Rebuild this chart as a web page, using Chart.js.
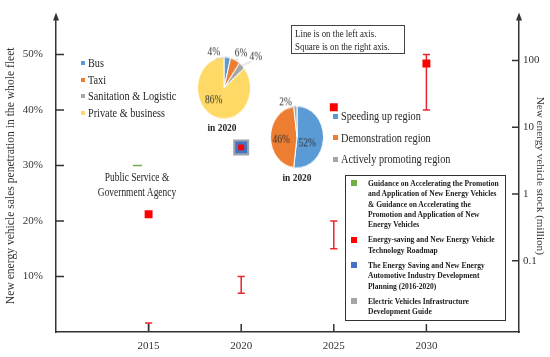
<!DOCTYPE html>
<html>
<head>
<meta charset="utf-8">
<script src="https://cdn.jsdelivr.net/npm/chart.js@4.4.1/dist/chart.umd.min.js"></script>
<style>
  body { margin: 0; background: #fff; }
  #wrap { position: relative; width: 550px; height: 357px; overflow: hidden;
          font-family: 'Liberation Serif', 'Times New Roman', serif; color: #262626; }
  .abs { position: absolute; white-space: nowrap; }
  .nar { transform: scaleX(.855); transform-origin: 0 0; }
  .pie { position: absolute; width: 110px; height: 110px; transform: scaleY(1.17); }
</style>
</head>
<body>
<div id="wrap">
  <canvas id="main" width="550" height="357"></canvas>
  <div class="pie" id="pie1box"><canvas id="pie1" width="110" height="110"></canvas></div>
  <div class="pie" id="pie2box"><canvas id="pie2" width="110" height="110"></canvas></div>
</div>
<script>
// target years and values
const years = [2015, 2020, 2025, 2030];
const shareLow = [0, 7, 15, 40];        // % of fleet sales, lower end of target
const shareHigh = [1.6, 10, 20, 50];    // upper end
const roadmapStock = [0.5, 5, 20, 90];  // million, right axis
const planningYear = [2020];
const planningStock = [5];
const infraYear = [2020];
const infraStock = [5];
const publicYear = [2014.4];
const publicShare = [30];

const xTicks = [2015, 2020, 2025, 2030];
const leftTicks = [10, 20, 30, 40, 50];
const rightTicks = [0.1, 1, 10, 100];

const vehicleTypes = ['Bus', 'Taxi', 'Sanitation & Logistic', 'Private & business'];
const vehicleShares = [4, 6, 4, 86];
const regionTypes = ['Speeding up region', 'Demonstration region', 'Actively promoting region'];
const regionShares = [52, 46, 2];

const policies = [
  'Guidance on Accelerating the Promotion\nand Application of New Energy Vehicles\n& Guidance on Accelerating the\nPromotion and Application of New\nEnergy Vehicles',
  'Energy-saving and New Energy Vehicle\nTechnology Roadmap',
  'The Energy Saving and New Energy\nAutomotive Industry Development\nPlanning (2016-2020)',
  'Electric Vehicles Infrastructure\nDevelopment Guide'
];

const GREEN = '#70AD47', RED = '#FF0000', BLUE = '#4472C4', GREY = '#A5A5A5';
const pieColors = ['#5B9BD5', '#ED7D31', '#A5A5A5', '#FFD966'];
const AX = '#333';

Chart.defaults.font.family = "'Liberation Serif', 'Times New Roman', serif";
Chart.defaults.color = '#333';

// error bar points, broken apart with null
const barPoints = [];
years.forEach((y, i) => {
  barPoints.push({x: y, y: shareLow[i]}, {x: y, y: shareHigh[i]}, {x: y, y: null});
});

// ticks pointing into the plot + arrow heads
const axisDecor = {
  id: 'axisDecor',
  afterDraw(chart) {
    const {ctx, chartArea: a, scales} = chart;
    ctx.save();
    ctx.strokeStyle = AX;
    ctx.fillStyle = AX;
    ctx.lineWidth = 1.5;
    ctx.beginPath();
    scales.x.ticks.forEach(t => {
      const p = scales.x.getPixelForValue(t.value);
      ctx.moveTo(p, a.bottom); ctx.lineTo(p, a.bottom - 8);
    });
    scales.y.ticks.forEach(t => {
      const p = scales.y.getPixelForValue(t.value);
      ctx.moveTo(a.left, p); ctx.lineTo(a.left + 8, p);
    });
    scales.y1.ticks.forEach(t => {
      const p = scales.y1.getPixelForValue(t.value);
      ctx.moveTo(a.right, p); ctx.lineTo(a.right - 7, p);
    });
    ctx.stroke();
    [a.left, a.right].forEach(xp => {
      ctx.beginPath();
      ctx.moveTo(xp, a.top - 7);
      ctx.lineTo(xp - 3, a.top + 1);
      ctx.lineTo(xp + 3, a.top + 1);
      ctx.closePath();
      ctx.fill();
    });
    ctx.restore();
  }
};

new Chart(document.getElementById('main'), {
  type: 'scatter',
  data: {
    datasets: [
      {
        label: 'Energy-saving and New Energy Vehicle Technology Roadmap',
        data: years.map((y, i) => ({x: y, y: roadmapStock[i]})),
        yAxisID: 'y1',
        pointStyle: 'rect',
        pointRadius: [5.6, 4.2, 5.6, 5.6],
        pointBackgroundColor: RED,
        pointBorderWidth: 0
      },
      {
        label: 'sales share range',
        data: barPoints,
        yAxisID: 'y',
        showLine: true,
        borderColor: '#E8262B',
        borderWidth: 1.5,
        pointStyle: 'line',
        pointBorderColor: '#E8262B',
        pointBorderWidth: 1.5,
        pointRadius: c => (c.raw && c.raw.y === 0) ? 0 : 3.6
      },
      {
        label: 'Public Service & Government Agency',
        data: publicYear.map((y, i) => ({x: y, y: publicShare[i]})),
        yAxisID: 'y',
        pointStyle: 'line',
        pointRadius: 4.5,
        pointBorderColor: GREEN,
        pointBorderWidth: 1.5
      },
      {
        label: 'The Energy Saving and New Energy Automotive Industry Development Planning (2016-2020)',
        data: planningYear.map((y, i) => ({x: y, y: planningStock[i]})),
        yAxisID: 'y1',
        pointStyle: 'rect',
        pointRadius: 8.4,
        pointBackgroundColor: BLUE,
        pointBorderWidth: 0
      },
      {
        label: 'Electric Vehicles Infrastructure Development Guide',
        data: infraYear.map((y, i) => ({x: y, y: infraStock[i]})),
        yAxisID: 'y1',
        pointStyle: 'rect',
        pointRadius: 11.3,
        pointBackgroundColor: '#9DA3AD',
        pointBorderWidth: 0
      }
    ]
  },
  options: {
    responsive: false,
    animation: false,
    events: [],
    layout: { padding: { top: 12 } },
    plugins: { legend: { display: false }, tooltip: { enabled: false } },
    scales: {
      x: {
        type: 'linear',
        min: 2010,
        max: 2035,
        afterFit: s => { s.height = 25; },
        afterBuildTicks: s => { s.ticks = xTicks.map(v => ({value: v})); },
        grid: { drawOnChartArea: false, drawTicks: false },
        border: { color: AX, width: 1.5 },
        ticks: { padding: 8, font: { size: 11 }, callback: v => String(v) }
      },
      y: {
        type: 'linear',
        position: 'left',
        min: 0,
        max: 56.3,
        afterFit: s => { s.width = 56; },
        afterBuildTicks: s => { s.ticks = leftTicks.map(v => ({value: v})); },
        grid: { drawOnChartArea: false, drawTicks: false },
        border: { color: AX, width: 1.5 },
        ticks: { padding: 13, font: { size: 11 }, callback: v => v + '%' },
        title: {
          display: true,
          text: 'New energy vehicle sales penetration in the whole fleet',
          font: { size: 11.6 },
          padding: { top: 4, bottom: 0 }
        }
      },
      y1: {
        type: 'logarithmic',
        position: 'right',
        min: 0.0086,
        max: 410,
        afterFit: s => { s.width = 31; },
        afterBuildTicks: s => { s.ticks = rightTicks.map(v => ({value: v})); },
        grid: { drawOnChartArea: false, drawTicks: false },
        border: { color: AX, width: 1.5 },
        ticks: { padding: 4, font: { size: 11 }, callback: v => String(v) },
        title: {
          display: true,
          text: 'New energy vehicle stock (million)',
          font: { size: 11.2 },
          padding: { top: 3, bottom: 0 }
        }
      }
    }
  },
  plugins: [axisDecor]
});

// percentage labels on the pies
const pieLabels = {
  id: 'pieLabels',
  afterDatasetsDraw(chart, args, opts) {
    const ctx = chart.ctx;
    const arcs = chart.getDatasetMeta(0).data;
    const vals = chart.data.datasets[0].data;
    ctx.save();
    ctx.font = opts.size + "px 'Liberation Serif', serif";
    ctx.fillStyle = '#333';
    ctx.textAlign = 'center';
    ctx.textBaseline = 'middle';
    arcs.forEach((a, i) => {
      const mid0 = (a.startAngle + a.endAngle) / 2;
      const mid = mid0 + opts.turn[i] * Math.PI / 180;
      const d = a.outerRadius * opts.dist[i];
      const lx = a.x + Math.cos(mid) * d, ly = a.y + Math.sin(mid) * d;
      if (opts.dist[i] > 1) {
        ctx.strokeStyle = '#c8c8c8';
        ctx.lineWidth = 0.8;
        ctx.beginPath();
        ctx.moveTo(a.x + Math.cos(mid0) * a.outerRadius, a.y + Math.sin(mid0) * a.outerRadius);
        ctx.lineTo(a.x + Math.cos(mid) * (d - 6), a.y + Math.sin(mid) * (d - 6));
        ctx.stroke();
      }
      ctx.fillText(vals[i] + '%', lx, ly);
    });
    ctx.restore();
  }
};

function makePie(id, values, colors, labelOpts) {
  new Chart(document.getElementById(id), {
    type: 'pie',
    data: { labels: values.map(String), datasets: [{ data: values, backgroundColor: colors,
      borderColor: '#fff', borderWidth: 1, radius: 26.5 }] },
    options: {
      responsive: false, animation: false, events: [],
      plugins: { legend: { display: false }, tooltip: { enabled: false }, pieLabels: labelOpts }
    },
    plugins: [pieLabels]
  });
}

function placeBox(id, cx, cy) {
  const b = document.getElementById(id);
  b.style.left = (cx - 55) + 'px';
  b.style.top = (cy - 55) + 'px';
}
placeBox('pie1box', 223.5, 88);
placeBox('pie2box', 296.5, 136.5);

makePie('pie1', vehicleShares, pieColors,
  { size: 9.5, dist: [1.22, 1.3, 1.56, 0.55], turn: [-25.7, 4.7, 7, 20] });
makePie('pie2', regionShares, ['#5B9BD5', '#ED7D31', '#A5A5A5'],
  { size: 9.5, dist: [0.44, 0.6, 1.19], turn: [25, -7.6, -17.4] });

// html texts
const wrap = document.getElementById('wrap');
function add(cls, css, html) {
  const d = document.createElement('div');
  d.className = cls;
  d.style.cssText += css;
  d.innerHTML = html;
  wrap.appendChild(d);
  return d;
}

function legend(names, colors, o) {
  names.forEach((n, i) => {
    const cy = o.top + i * o.step;
    add('abs', `left:${o.left}px;top:${cy - o.sq / 2}px;width:${o.sq}px;height:${o.sq}px;background:${colors[i]}`, '');
    add('abs nar', `left:${o.left + o.gap}px;top:${cy - o.lh / 2}px;line-height:${o.lh}px;font-size:${o.fs}px`, n);
  });
}
legend(vehicleTypes, pieColors, { left: 81, top: 63, step: 16.7, sq: 4, gap: 7, fs: 12, lh: 16 });
legend(regionTypes, ['#5B9BD5', '#ED7D31', '#A5A5A5'], { left: 332.5, top: 116, step: 21.5, sq: 5, gap: 8.5, fs: 12, lh: 18 });

add('abs', 'left:162px;top:120px;width:120px;text-align:center;font-weight:bold;font-size:11px;line-height:14px;transform:scaleX(.855)', 'in 2020');
add('abs', 'left:236.5px;top:170px;width:120px;text-align:center;font-weight:bold;font-size:11px;line-height:14px;transform:scaleX(.855)', 'in 2020');

add('abs', 'left:77px;top:169.5px;width:120px;text-align:center;font-size:11.8px;line-height:15px;transform:scaleX(.8)',
  'Public Service &amp;<br>Government Agency');

add('abs', 'left:291px;top:25px;width:112px;height:27px;border:1px solid #444', '');
add('abs nar', 'left:295px;top:26.5px;font-size:10.4px;line-height:13px',
  'Line is on the left axis.<br>Square is on the right axis.');

// policy legend box
add('abs', 'left:345px;top:175px;width:159px;height:144px;border:1.5px solid #333', '');
const policyColors = [GREEN, RED, BLUE, GREY];
let linesBefore = 0;
policies.forEach((p, i) => {
  const cy = 183 + linesBefore * 10.4 + i * 4.6;
  add('abs', `left:351px;top:${cy - 3}px;width:6px;height:6px;background:${policyColors[i]}`, '');
  add('abs nar', `left:368px;top:${cy - 5.2}px;font-size:8.8px;line-height:10.4px;font-weight:bold;color:#1a1a1a`,
    p.split('\n').join('<br>').replace(/&(?!amp;)/g, '&amp;'));
  linesBefore += p.split('\n').length;
});
</script>
</body>
</html>
